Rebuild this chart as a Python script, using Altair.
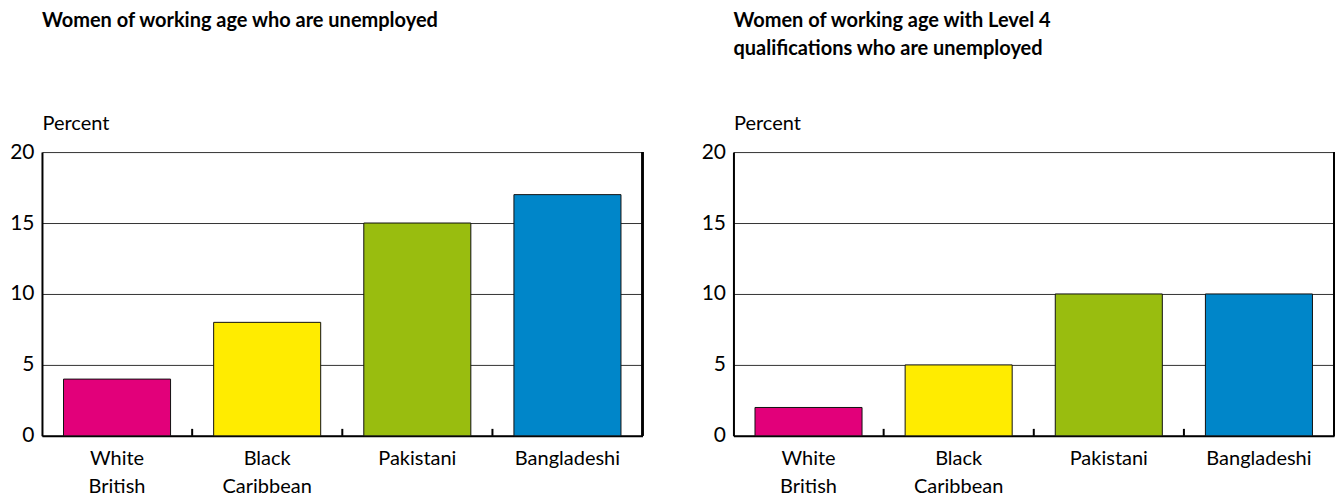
import altair as alt
import pandas as pd

categories = ["White British", "Black Caribbean", "Pakistani", "Bangladeshi"]
colors = ["#E2007A", "#FFEC00", "#99BD0F", "#0086C9"]
unemployed_all = [4, 8, 15, 17]
unemployed_level4 = [2, 5, 10, 10]

title_left = ["Women of working age who are unemployed", " "]
title_right = ["Women of working age with Level 4", "qualifications who are unemployed"]
y_ticks = [0, 5, 10, 15, 20]

FONT = "Lato"
W, H = 601, 284


def panel(values, title):
    df = pd.DataFrame({"cat": categories, "value": values})
    xscale = alt.Scale(domain=categories, paddingInner=0.287, paddingOuter=0.1435)
    bars = alt.Chart(df).mark_bar(stroke="#111", strokeWidth=1).encode(
        x=alt.X("cat:N", sort=categories, scale=xscale,
                axis=alt.Axis(title=None, labelAngle=0, ticks=False, domainColor="black",
                              domainWidth=2, labelFontSize=20, labelFont=FONT,
                              labelColor="black", labelPadding=13, labelLineHeight=28,
                              labelExpr="split(datum.label, ' ')", labelBaseline="top")),
        y=alt.Y("value:Q", scale=alt.Scale(domain=[0, 20], nice=False),
                axis=alt.Axis(title="Percent", values=y_ticks, ticks=False, grid=True,
                              gridColor="#333", gridWidth=1, domainColor="black",
                              domainWidth=2, labelFontSize=21, labelFont=FONT,
                              labelColor="black", labelPadding=8, titleAngle=0,
                              titleAlign="left", titleX=0, titleY=-23,
                              titleBaseline="alphabetic", titleFont=FONT,
                              titleFontSize=20, titleFontWeight="normal",
                              titleColor="black")),
        color=alt.Color("cat:N", scale=alt.Scale(domain=categories, range=colors), legend=None),
    )
    tick_df = df.iloc[1:]
    ticks = alt.Chart(tick_df).mark_rule(color="black", strokeWidth=2, xOffset=-21.5).encode(
        x=alt.X("cat:N", sort=categories, scale=xscale, bandPosition=0),
        y=alt.value(H),
        y2=alt.value(H - 7),
    )
    border = alt.Chart(df).mark_rule(color="black", strokeWidth=2).encode(
        x=alt.value(W), y=alt.value(0), y2=alt.value(H)
    )
    return alt.layer(bars, ticks, border).properties(
        width=W, height=H,
        title=alt.TitleParams(text=title, anchor="start", frame="group", font=FONT,
                              fontSize=20, fontWeight="bold", color="black",
                              offset=54, lineHeight=28),
    )


chart = alt.hconcat(
    panel(unemployed_all, title_left),
    panel(unemployed_level4, title_right),
    spacing=57,
).configure_view(stroke=None).properties(
    padding={"left": 9, "top": 11, "right": 0, "bottom": 0}
)

chart.save("out.html", embed_options={"renderer": "svg", "actions": False})
